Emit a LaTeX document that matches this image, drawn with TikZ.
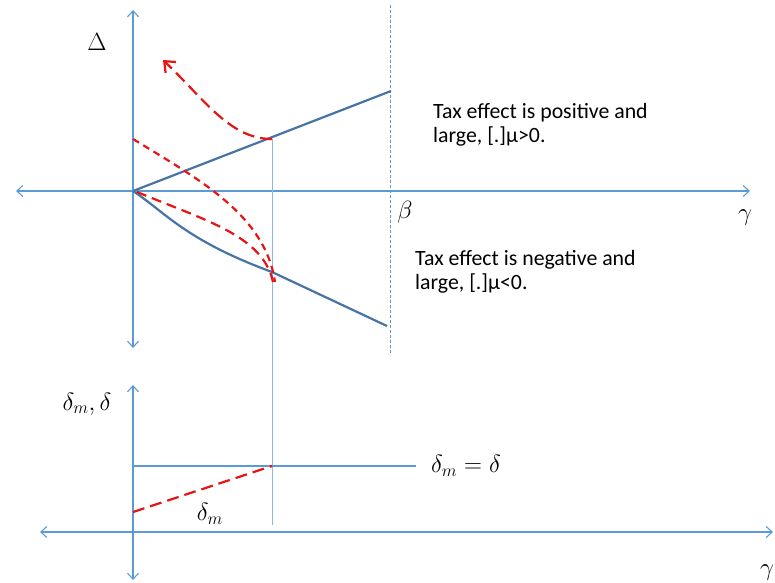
\documentclass[tikz,border=0pt]{standalone}
\usepackage{fontspec}
\setmainfont{Carlito}
\usetikzlibrary{arrows.meta}
\definecolor{axisblue}{RGB}{91,155,213}
\definecolor{curveblue}{RGB}{72,115,165}
\definecolor{dred}{RGB}{232,20,20}
\tikzset{
  axis/.style={draw=axisblue, line width=1.1pt, {Straight Barb[length=6pt,width=11pt]}-{Straight Barb[length=6pt,width=11pt]}},
  guide/.style={draw=axisblue!70, line width=0.5pt},
  guidedash/.style={draw=axisblue!80!gray, line width=0.6pt, dash pattern=on 3pt off 2pt},
  bluecurve/.style={draw=curveblue, line width=2.2pt},
  redlong/.style={draw=dred, line width=2.2pt, dash pattern=on 12pt off 6pt},
  redshort/.style={draw=dred, line width=2.2pt, dash pattern=on 7pt off 5pt},
  redmid/.style={draw=dred, line width=2.2pt, dash pattern=on 10pt off 6pt},
  txt/.style={font=\fontsize{21.8}{26}\selectfont, align=left, inner sep=0pt},
  mathlbl/.style={font=\fontsize{27}{30}\selectfont, inner sep=0pt}
}
\begin{document}
\begin{tikzpicture}[x=1pt,y=-1pt]
\useasboundingbox (0,0) rectangle (775,582);
\clip (0,0) rectangle (775,582);
% ---- top panel coordinates
\coordinate (O) at (133,191);
\coordinate (vtop) at (133,10);
\coordinate (vbot) at (133,348);
\coordinate (hleft) at (16,191);
\coordinate (hright) at (750,191);
\coordinate (B1) at (390,5);
\coordinate (B2) at (390,355);
\coordinate (Up) at (391,91);
\coordinate (P) at (272,139);
\coordinate (Q) at (272,272);
\coordinate (Lo) at (387,326);
\coordinate (G2) at (272,525);
\coordinate (A) at (163,60);
\coordinate (S2) at (133,139);
\coordinate (E2) at (275,282);
\coordinate (S3) at (137,192);
\coordinate (E3) at (273,282);
% axes
\draw[axis] (hleft) -- (hright);
\draw[axis] (vtop) -- (vbot);
\draw[guidedash] (B1) -- (B2);
\draw[guide] (P) -- (G2);
% blue curves
\draw[bluecurve] (O) -- (Up);
\draw[bluecurve] (O) .. controls (165,212) and (185,240) .. (Q) -- (Lo);
% red curves
\draw[redlong, -{Straight Barb[length=9pt,width=15pt]}] (P) .. controls (230,139) and (205,100) .. (A);
\draw[redshort] (S2) .. controls (200,180) and (265,215) .. (E2);
\draw[redmid] (S3) .. controls (207,221) and (263,236) .. (E3);
% labels
\node[mathlbl, anchor=center] (delta) at (97,42) {$\Delta$};
\node[mathlbl] (beta) at (405,212) {$\beta$};
\node[mathlbl] (gamma1) at (745,218) {$\gamma$};
\node[txt, anchor=base west] (pos1) at (433,118) {Tax effect is positive and};
\node[txt, anchor=base west] (pos2) at (433,142) {large, [.]µ>0.};
\node[txt, anchor=base west] (neg1) at (415,265) {Tax effect is negative and};
\node[txt, anchor=base west] (neg2) at (415,289) {large, [.]µ<0.};
% ---- bottom panel
\coordinate (bvtop) at (133,385);
\coordinate (bvbot) at (133,580);
\coordinate (bhleft) at (40,532);
\coordinate (bhright) at (773,532);
\coordinate (L0) at (133,466);
\coordinate (L1) at (416,466);
\coordinate (R0) at (133,512);
\coordinate (R1) at (272,466);
\draw[axis] (bhleft) -- (bhright);
\draw[axis] (bvtop) -- (bvbot);
\draw[draw=axisblue, line width=1.1pt] (L0) -- (L1);
\draw[redlong] (R0) -- (R1);
\node[mathlbl] (dmd) at (87,404) {$\delta_m,\delta$};
\node[mathlbl, anchor=west] (eq) at (431,466) {$\delta_m=\delta$};
\node[mathlbl] (dm) at (210,514) {$\delta_m$};
\node[mathlbl, anchor=west] (gamma2) at (760,573) {$\gamma$};
\end{tikzpicture}
\end{document}
